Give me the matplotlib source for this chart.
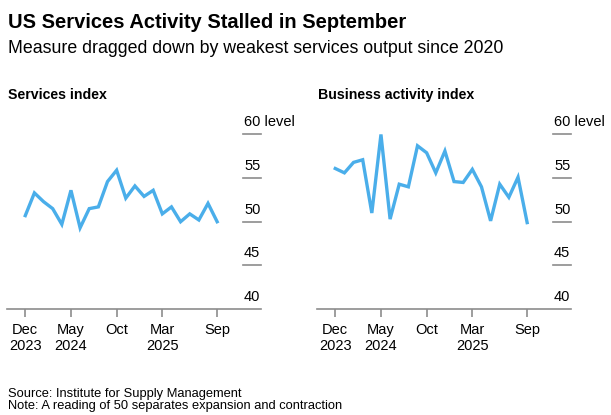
"""Recreate the US services activity two-panel line chart."""
import matplotlib.pyplot as plt
import matplotlib.transforms as mtransforms

plt.rcParams["font.family"] = ["Liberation Sans", "DejaVu Sans"]

# monthly readings, Dec 2023 .. Sep 2025
months = list(range(22))
services_index = [50.7, 53.3, 52.3, 51.5, 49.7, 53.6, 49.3, 51.5, 51.7, 54.6, 55.9,
                  52.7, 54.1, 52.9, 53.6, 50.9, 51.7, 50.0, 50.9, 50.2, 52.1, 50.0]
business_activity = [56.1, 55.6, 56.8, 57.1, 51.0, 60.0, 50.3, 54.3, 54.0, 58.7, 57.9,
                     55.6, 58.1, 54.6, 54.5, 56.0, 54.0, 50.1, 54.3, 52.8, 55.1, 49.9]

xtick_pos = [0, 5, 10, 15, 21]
xtick_labels = ["Dec\n2023", "May\n2024", "Oct", "Mar\n2025", "Sep"]
ytick_vals = [40, 45, 50, 55, 60]
ytick_labels = ["40", "45", "50", "55", "60 level"]

panels = [
    ("Services index", services_index, 7),
    ("Business activity index", business_activity, 317),
]

LINE = "#4aaeea"
GREY = "#8c8c8c"
W, H = 611, 415

fig = plt.figure(figsize=(W / 100, H / 100), dpi=100)

fig.text(8 / W, 1 - 28 / H, "US Services Activity Stalled in September",
         fontsize=14.5, fontweight="bold", va="baseline")
fig.text(8 / W, 1 - 53 / H, "Measure dragged down by weakest services output since 2020",
         fontsize=12.75, va="baseline")

for title, values, left_px in panels:
    ax = fig.add_axes([left_px / W, 1 - 309 / H, 254 / W, (309 - 117) / H])
    ax.plot(months, values, color=LINE, lw=2.4, solid_joinstyle="miter")
    ax.set_xlim(-2, 25.8)
    ax.set_ylim(40, 62)

    for side in ["top", "left", "right"]:
        ax.spines[side].set_visible(False)
    ax.spines["bottom"].set_color(GREY)
    ax.spines["bottom"].set_linewidth(1.2)

    ax.set_xticks(xtick_pos)
    ax.set_xticklabels(xtick_labels, fontsize=10.5, linespacing=1.15)
    ax.tick_params(axis="x", length=6, width=1.2, color=GREY, pad=4)
    ax.set_yticks([])

    trans = mtransforms.blended_transform_factory(ax.transAxes, ax.transData)
    offset = mtransforms.offset_copy(trans, fig=fig, y=8, units="dots")
    for val, lab in zip(ytick_vals, ytick_labels):
        if val > 40:
            ax.plot([0.929, 1.0], [val, val], transform=trans, color=GREY,
                    lw=1.2, clip_on=False)
        ax.text(0.933, val, lab, transform=offset, fontsize=10.5, va="baseline")

    fig.text((left_px + 1) / W, 1 - 99 / H, title, fontsize=10.2,
             fontweight="bold", va="baseline")

fig.text(8 / W, 1 - 397 / H, "Source: Institute for Supply Management",
         fontsize=9.3, va="baseline")
fig.text(8 / W, 1 - 409 / H, "Note: A reading of 50 separates expansion and contraction",
         fontsize=9.3, va="baseline")

fig.savefig("out.png", dpi=100)
